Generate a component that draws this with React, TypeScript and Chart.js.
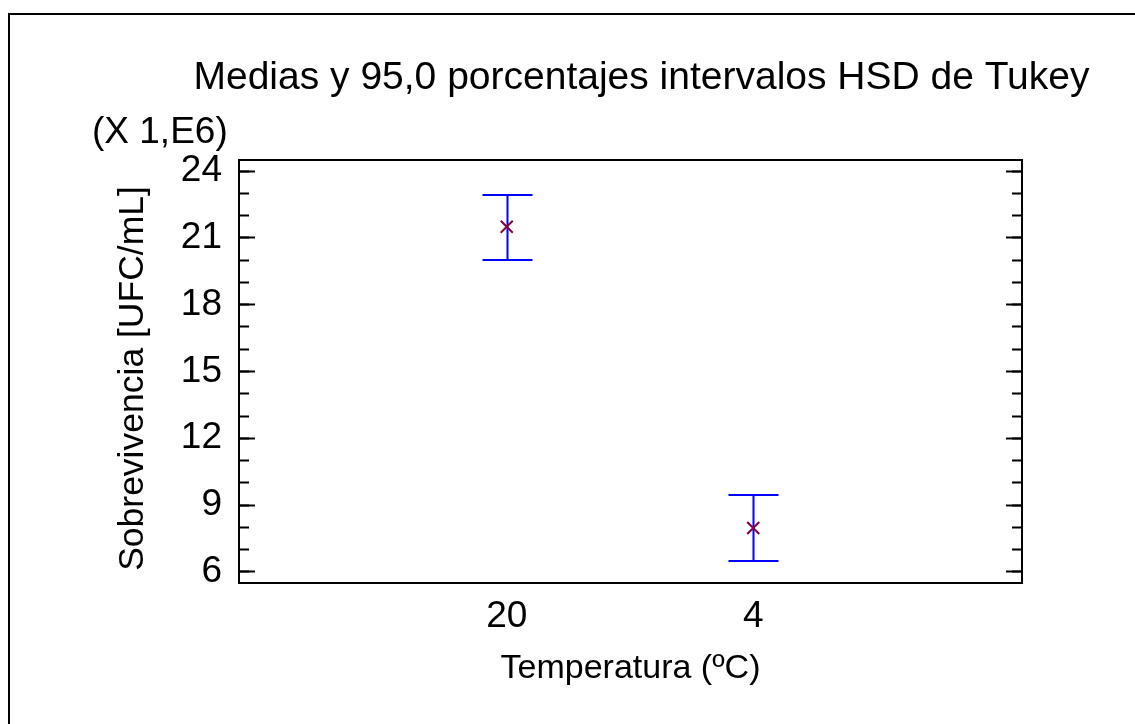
import React, { useEffect, useRef } from "react";
import { Chart, registerables } from "chart.js";

Chart.register(...registerables);

// ---- data ----
const categories = ["20", "4"];
const means = [21.5, 7.97];
const lowerLimits = [20.0, 6.47];
const upperLimits = [22.95, 9.47];
const yMajorTicks = [6, 9, 12, 15, 18, 21, 24];
const yMinorTicks = [6, 7, 8, 9, 10, 11, 12, 13, 14, 15, 16, 17, 18, 19, 20, 21, 22, 23, 24];
const yMin = 5.5;
const yMax = 24.5;
const xMin = -0.086;
const xMax = 3.09;

const titleText = "Medias y 95,0 porcentajes intervalos HSD de Tukey";
const scaleNote = "(X 1,E6)";
const yTitle = "Sobrevivencia [UFC/mL]";
const xTitle = "Temperatura (ºC)";

const FONT = "'Liberation Sans', Arial, sans-serif";

const errorBarsPlugin = {
  id: "errorBars",
  beforeDatasetsDraw(chart: any) {
    const { ctx, scales } = chart;
    const xs = scales.x;
    const ys = scales.y;
    ctx.save();
    ctx.strokeStyle = "#0000FF";
    ctx.lineWidth = 2;
    categories.forEach((_, i) => {
      const px = Math.round(xs.getPixelForValue(i + 1)) + 0.5;
      const pLo = Math.round(ys.getPixelForValue(lowerLimits[i]));
      const pHi = Math.round(ys.getPixelForValue(upperLimits[i]));
      const cap = 25;
      ctx.beginPath();
      ctx.moveTo(px, pLo);
      ctx.lineTo(px, pHi);
      ctx.moveTo(px - cap, pLo);
      ctx.lineTo(px + cap, pLo);
      ctx.moveTo(px - cap, pHi);
      ctx.lineTo(px + cap, pHi);
      ctx.stroke();
    });
    ctx.restore();
  },
};

const decorPlugin = {
  id: "decor",
  afterDraw(chart: any) {
    const { ctx, chartArea } = chart;
    ctx.save();
    // outer frame (top and left visible)
    ctx.fillStyle = "#000";
    ctx.fillRect(8, 13, 1127, 2);
    ctx.fillRect(8, 13, 2, 711);
    // plot frame
    ctx.strokeStyle = "#000";
    ctx.lineWidth = 2;
    ctx.strokeRect(
      chartArea.left,
      chartArea.top,
      chartArea.right - chartArea.left,
      chartArea.bottom - chartArea.top
    );
    // titles
    ctx.fillStyle = "#000";
    ctx.textBaseline = "alphabetic";
    ctx.font = `39px ${FONT}`;
    ctx.textAlign = "center";
    ctx.fillText(titleText, 641.5, 89);
    ctx.textAlign = "left";
    ctx.font = `37px ${FONT}`;
    ctx.fillText(scaleNote, 92, 143);
    // y axis title
    ctx.save();
    ctx.translate(133, 378.5);
    ctx.rotate(-Math.PI / 2);
    ctx.textAlign = "center";
    ctx.textBaseline = "middle";
    ctx.font = `35.5px ${FONT}`;
    ctx.fillText(yTitle, 0, 0);
    ctx.restore();
    ctx.restore();
  },
};

const tickGrid = (len: number) => ({
  display: true,
  drawOnChartArea: false,
  drawTicks: true,
  tickLength: len,
  tickColor: "#000",
  tickWidth: 2,
});

export default function App() {
  const ref = useRef<HTMLCanvasElement | null>(null);

  useEffect(() => {
    document.body.style.margin = "0";
    document.body.style.overflow = "hidden";
    const canvas = ref.current;
    if (!canvas) return;
    const chart = new Chart(canvas, {
      type: "scatter",
      data: {
        datasets: [
          {
            data: categories.map((_, i) => ({ x: i + 1, y: means[i] })),
            pointStyle: "crossRot",
            pointRadius: 8.5,
            pointBorderColor: "#800040",
            pointBackgroundColor: "#800040",
            pointBorderWidth: 2,
            borderColor: "#800040",
            showLine: false,
          } as any,
        ],
      },
      options: {
        responsive: false,
        animation: false,
        devicePixelRatio: 1,
        layout: { padding: { top: 160, right: 113, bottom: 0, left: 0 } },
        plugins: {
          legend: { display: false },
          tooltip: { enabled: false },
        },
        scales: {
          x: {
            type: "linear",
            position: "bottom",
            min: xMin,
            max: xMax,
            afterBuildTicks: (a: any) => {
              a.ticks = categories.map((_, i) => ({ value: i + 1 }));
            },
            ticks: {
              callback: (v: any) => categories[Number(v) - 1] ?? "",
              font: { family: FONT, size: 37 },
              color: "#000",
              padding: 4,
              maxRotation: 0,
              autoSkip: false,
            },
            grid: { display: false },
            border: { display: false },
            title: {
              display: true,
              text: xTitle,
              font: { family: FONT, size: 34 },
              color: "#000",
              padding: { top: 0, bottom: 35 },
            },
            afterFit: (a: any) => {
              a.height = 141;
            },
          } as any,
          y: {
            type: "linear",
            position: "left",
            weight: 10,
            min: yMin,
            max: yMax,
            afterBuildTicks: (a: any) => {
              a.ticks = yMajorTicks.map((v) => ({ value: v }));
            },
            ticks: {
              font: { family: FONT, size: 37 },
              color: "#000",
              padding: 33,
              callback: (v: any) => String(v),
            },
            grid: tickGrid(-16),
            border: { display: false },
            title: { display: false },
            afterFit: (a: any) => {
              a.width = 239;
            },
          } as any,
          yMinor: {
            type: "linear",
            position: "left",
            weight: 0,
            min: yMin,
            max: yMax,
            afterBuildTicks: (a: any) => {
              a.ticks = yMinorTicks.map((v) => ({ value: v }));
            },
            ticks: { display: false },
            grid: tickGrid(-10),
            border: { display: false },
            afterFit: (a: any) => {
              a.width = 0;
            },
          } as any,
          yRight: {
            type: "linear",
            position: "right",
            min: yMin,
            max: yMax,
            afterBuildTicks: (a: any) => {
              a.ticks = yMajorTicks.map((v) => ({ value: v }));
            },
            ticks: { display: false },
            grid: tickGrid(-16),
            border: { display: false },
            afterFit: (a: any) => {
              a.width = 0;
            },
          } as any,
          yRightMinor: {
            type: "linear",
            position: "right",
            min: yMin,
            max: yMax,
            afterBuildTicks: (a: any) => {
              a.ticks = yMinorTicks.map((v) => ({ value: v }));
            },
            ticks: { display: false },
            grid: tickGrid(-10),
            border: { display: false },
            afterFit: (a: any) => {
              a.width = 0;
            },
          } as any,
        },
      },
      plugins: [errorBarsPlugin, decorPlugin],
    });
    return () => chart.destroy();
  }, []);

  return (
    <canvas
      ref={ref}
      width={1135}
      height={724}
      style={{ display: "block", width: 1135, height: 724 }}
    />
  );
}
